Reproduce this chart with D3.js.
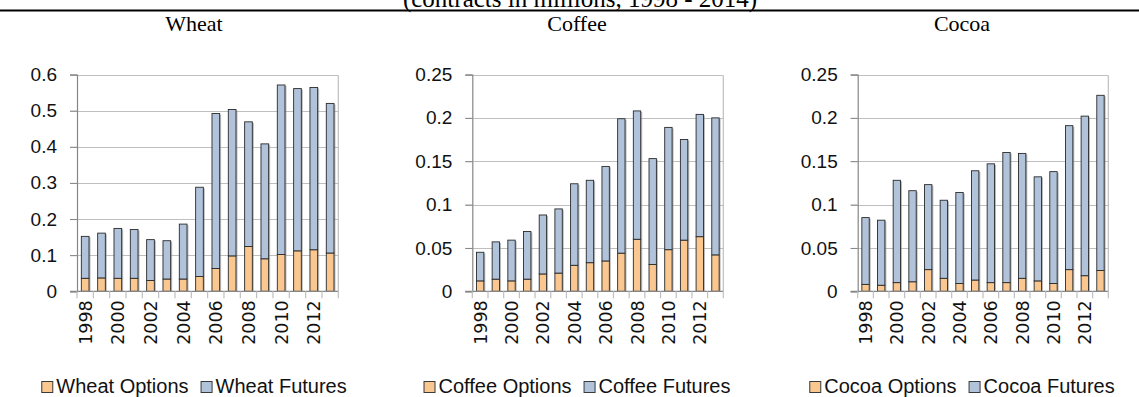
<!DOCTYPE html>
<html>
<head>
<meta charset="utf-8">
<script src="https://cdn.jsdelivr.net/npm/d3@7/dist/d3.min.js"></script>
<style>
  html, body { margin: 0; padding: 0; background: #fff; }
  svg { display: block; }
</style>
</head>
<body>
<svg id="chart" width="1139" height="397"></svg>
<script>
// Exchange-traded volumes, contracts in millions
const years = [1998, 1999, 2000, 2001, 2002, 2003, 2004, 2005,
               2006, 2007, 2008, 2009, 2010, 2011, 2012, 2013];
const yearLabels = ["1998", "2000", "2002", "2004", "2006", "2008", "2010", "2012"];

const wheatOptions = [0.036, 0.037, 0.036, 0.036, 0.030, 0.034, 0.034, 0.041,
                      0.063, 0.098, 0.124, 0.090, 0.102, 0.112, 0.115, 0.106];
const wheatFutures = [0.116, 0.124, 0.138, 0.135, 0.113, 0.106, 0.152, 0.247,
                      0.429, 0.405, 0.345, 0.318, 0.469, 0.449, 0.449, 0.414];

const coffeeOptions = [0.012, 0.014, 0.012, 0.014, 0.020, 0.021, 0.030, 0.033,
                       0.035, 0.044, 0.060, 0.031, 0.048, 0.059, 0.063, 0.042];
const coffeeFutures = [0.033, 0.043, 0.047, 0.055, 0.068, 0.074, 0.094, 0.095,
                       0.109, 0.155, 0.148, 0.122, 0.141, 0.116, 0.141, 0.158];

const cocoaOptions = [0.008, 0.007, 0.010, 0.011, 0.025, 0.015, 0.009, 0.013,
                      0.010, 0.010, 0.015, 0.012, 0.009, 0.025, 0.018, 0.024];
const cocoaFutures = [0.077, 0.075, 0.118, 0.105, 0.098, 0.090, 0.105, 0.126,
                      0.137, 0.150, 0.144, 0.120, 0.129, 0.166, 0.184, 0.202];

const wheatTicks = ["0", "0.1", "0.2", "0.3", "0.4", "0.5", "0.6"];
const softTicks = ["0", "0.05", "0.1", "0.15", "0.2", "0.25"];

const optionsColor = "#F9C78F";
const futuresColor = "#B1C3DA";

const svg = d3.select("#chart");
const sansFont = "'Liberation Sans', Arial, sans-serif";
const serifFont = "'Liberation Serif', 'Times New Roman', serif";

// Header line and caption
svg.append("text")
  .attr("x", 580).attr("y", 6.5)
  .attr("text-anchor", "middle")
  .attr("font-family", serifFont)
  .attr("font-size", 25)
  .text("(contracts in millions, 1998 - 2014)");
svg.append("line")
  .attr("x1", 0).attr("x2", 1139)
  .attr("y1", 10.5).attr("y2", 10.5)
  .attr("stroke", "#000").attr("stroke-width", 2);

const panels = [
  { name: "Wheat", options: wheatOptions, futures: wheatFutures, ticks: wheatTicks,
    left: 77, right: 338.3, center: 194 },
  { name: "Coffee", options: coffeeOptions, futures: coffeeFutures, ticks: softTicks,
    left: 472.3, right: 723.3, center: 577 },
  { name: "Cocoa", options: cocoaOptions, futures: cocoaFutures, ticks: softTicks,
    left: 857.7, right: 1108.3, center: 962 }
];

const plotTop = 74.5, plotBottom = 291.3;

panels.forEach(p => {
  const g = svg.append("g");

  // Panel title
  g.append("text")
    .attr("x", p.center).attr("y", 31)
    .attr("text-anchor", "middle")
    .attr("font-family", serifFont)
    .attr("font-size", 22)
    .text(p.name);

  const tickVals = p.ticks.map(Number);
  const yMax = d3.max(tickVals);
  const y = d3.scaleLinear().domain([0, yMax]).range([plotBottom, plotTop]);
  const x = d3.scaleBand().domain(years).range([p.left, p.right]).paddingInner(0.53).paddingOuter(0.265);

  // Gridlines with short ticks to the left of the axis
  g.append("g").selectAll("line")
    .data(tickVals.filter(v => v > 0))
    .join("line")
    .attr("x1", p.left - 7).attr("x2", p.right)
    .attr("y1", d => Math.round(y(d)) + 0.5).attr("y2", d => Math.round(y(d)) + 0.5)
    .attr("stroke", "#BFBFBF").attr("stroke-width", 1.2);

  // Right border of plot area
  g.append("line")
    .attr("x1", p.right).attr("x2", p.right)
    .attr("y1", Math.round(y(yMax)) + 0.5).attr("y2", plotBottom)
    .attr("stroke", "#BFBFBF").attr("stroke-width", 1.2);

  // Y axis
  const yAxis = d3.axisLeft(y)
    .tickValues(tickVals)
    .tickFormat((d, i) => p.ticks[i])
    .tickSize(7)
    .tickPadding(13);
  const ya = g.append("g").attr("transform", `translate(${p.left},0)`).call(yAxis);
  ya.select(".domain").attr("stroke", "#868686").attr("stroke-width", 1.2);
  ya.selectAll(".tick line").attr("stroke", "#868686");
  ya.selectAll(".tick text")
    .attr("font-family", sansFont)
    .attr("font-size", 19)
    .attr("fill", "#111");

  // Stacked bars
  const rows = years.map((yr, i) => ({ year: yr, options: p.options[i], futures: p.futures[i] }));
  const stack = d3.stack().keys(["options", "futures"])(rows);
  const colors = { options: optionsColor, futures: futuresColor };

  // soft shadow on the right of each stacked column
  g.append("g").selectAll("rect")
    .data(stack[1])
    .join("rect")
    .attr("x", d => x(d.data.year) + 1.5)
    .attr("y", d => y(d[1]) + 1)
    .attr("width", x.bandwidth())
    .attr("height", d => y(0) - y(d[1]) - 1)
    .attr("fill", "#8c8c8c")
    .attr("opacity", 0.6);

  stack.forEach(layer => {
    g.append("g").selectAll("rect")
      .data(layer)
      .join("rect")
      .attr("x", d => x(d.data.year))
      .attr("y", d => y(d[1]))
      .attr("width", x.bandwidth())
      .attr("height", d => y(d[0]) - y(d[1]))
      .attr("fill", colors[layer.key])
      .attr("stroke", "#2a2a2a")
      .attr("stroke-width", 0.9);
  });

  // X axis line with ticks between categories
  g.append("line")
    .attr("x1", p.left - 7).attr("x2", p.right)
    .attr("y1", plotBottom).attr("y2", plotBottom)
    .attr("stroke", "#868686").attr("stroke-width", 1.2);
  const step = (p.right - p.left) / years.length;
  g.append("g").selectAll("line")
    .data(d3.range(years.length + 1))
    .join("line")
    .attr("x1", i => p.left + i * step).attr("x2", i => p.left + i * step)
    .attr("y1", plotBottom).attr("y2", plotBottom + 7)
    .attr("stroke", "#BFBFBF").attr("stroke-width", 1.2);

  // Rotated year labels
  g.append("g").selectAll("text")
    .data(yearLabels)
    .join("text")
    .attr("transform", d => `translate(${x(+d) + x.bandwidth() / 2 + 6.5},${plotBottom + 9}) rotate(-90)`)
    .attr("text-anchor", "end")
    .attr("font-family", "'DejaVu Sans', Verdana, sans-serif")
    .attr("font-size", 17.5)
    .attr("fill", "#111")
    .text(d => d);

  // Legend
  const items = [
    { label: p.name + " Options", color: optionsColor },
    { label: p.name + " Futures", color: futuresColor }
  ];
  const lg = g.append("g");
  let cx = 0;
  items.forEach((it, k) => {
    const item = lg.append("g").attr("transform", `translate(${cx},0)`);
    item.append("rect")
      .attr("x", 0.5).attr("y", 381.5)
      .attr("width", 11).attr("height", 11)
      .attr("fill", it.color)
      .attr("stroke", "#3a3a3a").attr("stroke-width", 1);
    const t = item.append("text")
      .attr("x", 15).attr("y", 393)
      .attr("font-family", sansFont)
      .attr("font-size", 20)
      .attr("fill", "#111")
      .text(it.label);
    cx += 15 + t.node().getComputedTextLength() + 12;
  });
  const lw = cx - 12;
  lg.attr("transform", `translate(${p.center - lw / 2},0)`);
});
</script>
</body>
</html>
